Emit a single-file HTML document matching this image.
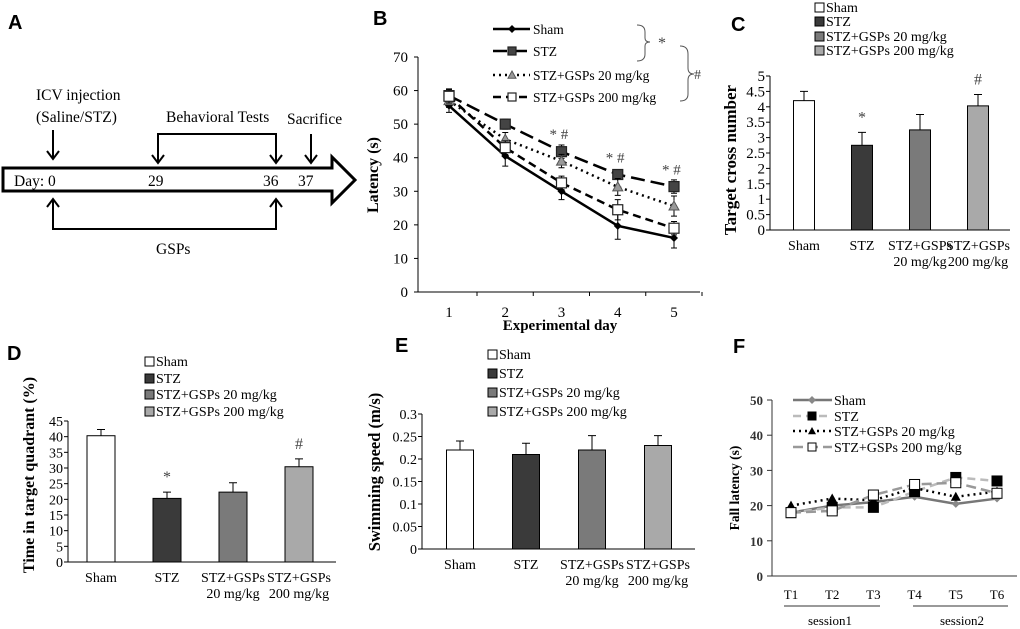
<!DOCTYPE html>
<html><head><meta charset="utf-8"><style>
html,body{margin:0;padding:0;background:#fff;}
svg{display:block;font-family:"Liberation Serif",serif;}
.pl{font-family:"Liberation Sans",sans-serif;font-weight:bold;font-size:20px;}
.tt{font-weight:bold;}
</style></head><body>
<svg id="fig" width="1020" height="629" viewBox="0 0 1020 629" xmlns="http://www.w3.org/2000/svg">
<!-- Panel A -->
<g fill="none" stroke="#000" stroke-width="2">
<text class="pl" x="8" y="29" fill="#000" stroke="none">A</text>
<path d="M3,168 L332,168 L332,157 L355,180 L332,203 L332,191 L3,191 Z" stroke-width="3"/>
<line x1="53" y1="130" x2="53" y2="159"/><path d="M47,151 L53,159 L59,151"/>
<path d="M158,163 L158,134 L276,134 L276,163"/><path d="M152,155 L158,163 L164,155"/><path d="M270,155 L276,163 L282,155"/>
<line x1="311" y1="134" x2="311" y2="163"/><path d="M305,155 L311,163 L317,155"/>
<path d="M53,199 L53,229 L276,229 L276,199"/><path d="M47,207 L53,199 L59,207"/><path d="M270,207 L276,199 L282,207"/>
<g fill="#000" stroke="none" font-size="15.5">
<text x="14" y="186">Day: 0</text><text x="148" y="186">29</text><text x="263" y="186">36</text><text x="298" y="186">37</text>
<text x="36" y="100">ICV injection</text>
<text x="36" y="122">(Saline/STZ)</text>
<text x="166" y="122">Behavioral Tests</text>
<text x="287" y="124">Sacrifice</text>
<text x="156" y="254">GSPs</text>
</g></g>
<g id="pb"></g>
<g id="pc"></g>
<g id="pd"></g>
<g id="pe"></g>
<g id="pf"></g>
</svg>
<script>
// Panel B data
const bDays=[1,2,3,4,5];
const bYTicks=[0,10,20,30,40,50,60,70];
const bSham=[55.5,40.5,30,19.7,16.1];
const bShamErr=[2,3,2.5,4,3];
const bSTZ=[58.5,50,41.8,35,31.4];
const bSTZErr=[2,1.5,2,1.5,2];
const bG20=[57,45.5,39,31.3,25.6];
const bG20Err=[2,2,2,2.5,3];
const bG200=[58.3,43,32.5,24.5,19];
const bG200Err=[2,2,2,3,2];
// Panel C data
const groups=["Sham","STZ","STZ+GSPs 20 mg/kg","STZ+GSPs 200 mg/kg"];
const cVals=[4.2,2.75,3.25,4.03];
const cErr=[0.3,0.42,0.5,0.37];
const cTicks=["0","0.5","1","1.5","2","2.5","3","3.5","4","4.5","5"];
// Panel D data
const dVals=[40.3,20.3,22.3,30.4];
const dErr=[2,2,3,2.5];
const dTicks=[0,5,10,15,20,25,30,35,40,45];
// Panel E data
const eVals=[0.22,0.21,0.22,0.23];
const eErr=[0.02,0.025,0.032,0.022];
const eTicks=["0","0.05","0.1","0.15","0.2","0.25","0.3"];
// Panel F data
const fTrials=["T1","T2","T3","T4","T5","T6"];
const fYTicks=[0,10,20,30,40,50];
const fSham=[18,20,21,22.5,20.5,22];
const fSTZ=[18,19.5,19.5,24,28,27];
const fG20=[20,22,21.5,25,22.5,24];
const fG200=[18,18.5,23,26,26.5,23.5];

const NS="http://www.w3.org/2000/svg";
function mk(p,tag,at,txt){const e=document.createElementNS(NS,tag);for(const k in at)e.setAttribute(k,at[k]);if(txt!==undefined)e.textContent=txt;p.appendChild(e);return e;}
const barFills=["#fff","#3a3a3a","#7a7a7a","#a9a9a9"];

function label(p,t,x,y){const e=mk(p,'text',{class:'pl',x:x,y:y},t);

}
function yTitle(p,t,x,cy,fs){const e=mk(p,'text',{class:'tt',x:x,y:cy,'font-size':fs,'text-anchor':'middle',transform:`rotate(-90 ${x} ${cy})`},t);

}

// ---- Panel B ----
(function(){
const g=document.getElementById('pb');
const X0=418,Y0=292,Y70=57;
const sx=d=>449+(d-1)*56.25, sy=v=>Y0-(v/70)*(Y0-Y70);
label(g,'B',373,25);
mk(g,'line',{x1:X0,y1:Y70,x2:X0,y2:Y0,stroke:'#000'});
mk(g,'line',{x1:X0,y1:Y0,x2:700,y2:Y0,stroke:'#000'});
bYTicks.forEach(v=>{mk(g,'line',{x1:X0-4,y1:sy(v),x2:X0,y2:sy(v),stroke:'#000'});
const t=mk(g,'text',{'text-anchor':'end',x:408,y:sy(v)+5,'font-size':15},v);

});
bDays.forEach(d=>{mk(g,'line',{x1:sx(d)+28,y1:Y0,x2:sx(d)+28,y2:Y0+4,stroke:'#000'});
const t=mk(g,'text',{'text-anchor':'middle',x:sx(d),y:317,'font-size':15},d);

});
const xt=mk(g,'text',{class:'tt','text-anchor':'middle',x:560,y:330,'font-size':15},'Experimental day');


yTitle(g,'Latency (s)',378,175,16);
const series=[
 {n:'sham',v:bSham,e:bShamErr,dash:'',w:2.5,m:'dia',fill:'#000'},
 {n:'stz',v:bSTZ,e:bSTZErr,dash:'14,6',w:2.5,m:'sq',fill:'#444'},
 {n:'gsps20',v:bG20,e:bG20Err,dash:'2,4',w:2.5,m:'tri',fill:'#999'},
 {n:'gsps200',v:bG200,e:bG200Err,dash:'8,5',w:2.5,m:'sq',fill:'#fff'}];
function marker(p,m,x,y,fill,s){
 if(m==='dia')return mk(p,'path',{d:`M${x},${y-4}L${x+4},${y}L${x},${y+4}L${x-4},${y}Z`,fill:'#000'});
 if(m==='sq')return mk(p,'rect',{x:x-s,y:y-s,width:2*s,height:2*s,fill:fill,stroke:'#222','stroke-width':1.2});
 return mk(p,'path',{d:`M${x},${y-s}L${x+s},${y+s*0.8}L${x-s},${y+s*0.8}Z`,fill:fill,stroke:'#555'});}
series.forEach(s=>{
 const sg=mk(g,'g',{});
 
 
 s.v.forEach((v,i)=>{const x=sx(bDays[i]);mk(sg,'path',{d:`M${x},${sy(v+s.e[i])}V${sy(v-s.e[i])}M${x-3},${sy(v+s.e[i])}h6M${x-3},${sy(v-s.e[i])}h6`,stroke:'#000'});});
 mk(sg,'polyline',{points:s.v.map((v,i)=>sx(bDays[i])+','+sy(v)).join(' '),fill:'none',stroke:'#000','stroke-width':s.w,'stroke-dasharray':s.dash});
 s.v.forEach((v,i)=>{const pt=marker(sg,s.m,sx(bDays[i]),sy(v),s.fill,5);
 
 });
});
const names=['Sham','STZ','STZ+GSPs 20 mg/kg','STZ+GSPs 200 mg/kg'],ly=[29,51,75,97];
series.forEach((s,i)=>{const lg=mk(g,'g',{});
 
 
 mk(lg,'line',{x1:493,y1:ly[i],x2:530,y2:ly[i],stroke:'#000','stroke-width':2.5,'stroke-dasharray':s.dash});
 marker(lg,s.m,512,ly[i],s.fill,4);
 mk(lg,'text',{x:533,y:ly[i]+5,'font-size':13.5},names[i]);});
mk(g,'path',{d:'M637,25 Q645,25 645,32 V38 Q645,42 650,42 Q645,42 645,46 V54 Q645,61 637,61',fill:'none',stroke:'#555'});
mk(g,'text',{x:658,y:48,'font-size':16,fill:'#444'},'*');
mk(g,'path',{d:'M680,46 Q688,46 688,54 V68 Q688,74 694,74 Q688,74 688,80 V94 Q688,101 680,101',fill:'none',stroke:'#555'});
mk(g,'text',{x:694,y:79,'font-size':14,fill:'#444'},'#');
[[3,42],[4,35],[5,31.4]].forEach(a=>{const t=mk(g,'text',{x:sx(a[0])-12,y:sy(a[1])-12,'font-size':15,fill:'#444'},'* #');
 
 });
})();

// ---- bar chart helper ----
function barChart(g,o){
 const sy=v=>o.y0-(v/o.max)*(o.y0-o.ytop);
 mk(g,'line',{x1:o.ax,y1:o.ytop,x2:o.ax,y2:o.y0,stroke:'#000'});
 mk(g,'line',{x1:o.ax,y1:o.y0,x2:o.xend,y2:o.y0,stroke:'#000'});
 o.ticks.forEach(t=>{const v=parseFloat(t);mk(g,'line',{x1:o.ax-4,y1:sy(v),x2:o.ax,y2:sy(v),stroke:'#000'});
  const e=mk(g,'text',{'text-anchor':'end',x:o.ax-5,y:sy(v)+5,'font-size':o.tfs},t);
  
  });
 o.vals.forEach((v,i)=>{const cx=o.cx[i];
  const b=mk(g,'rect',{x:cx-o.bw/2,y:sy(v),width:o.bw,height:o.y0-sy(v),fill:barFills[i],stroke:'#000','stroke-width':1});
  
  
  const te=sy(v+o.err[i]);
  mk(g,'path',{d:`M${cx},${sy(v)}V${te}M${cx-4},${te}h8`,stroke:'#000'});
  const l1=i<2?groups[i]:'STZ+GSPs',l2=i<2?'':groups[i].slice(9);
  mk(g,'text',{'text-anchor':'middle',x:cx,y:o.y0+20,'font-size':14},l1);
  if(l2)mk(g,'text',{'text-anchor':'middle',x:cx,y:o.y0+36,'font-size':14},l2);
 });
 (o.marks||[]).forEach(m=>{const t=mk(g,'text',{'text-anchor':'middle',x:o.cx[m[0]],y:sy(o.vals[m[0]]+o.err[m[0]])-10,'font-size':16,fill:'#444'},m[1]);
  
  });
 o.ly.forEach((y,i)=>{const lg=mk(g,'g',{});
  
  
  mk(lg,'rect',{x:o.lx,y:y-5,width:9,height:9,fill:barFills[i],stroke:'#000'});
  mk(lg,'text',{x:o.lx+11,y:y+4,'font-size':14},groups[i]);});
}
barChart(document.getElementById('pc'),{ax:770,y0:230,ytop:76,max:5,xend:1010,tfs:15,ticks:cTicks,vals:cVals,err:cErr,cx:[804,862,920,978],bw:21,lx:815,ly:[8,22,37,51],marks:[[1,'*'],[3,'#']]});
label(document.getElementById('pc'),'C',731,31);
yTitle(document.getElementById('pc'),'Target cross number',736,160,17);
barChart(document.getElementById('pd'),{ax:68,y0:562,ytop:421,max:45,xend:336,tfs:14,ticks:dTicks.map(String),vals:dVals,err:dErr,cx:[101,167,233,299],bw:28,lx:145,ly:[362,379,395,412],marks:[[1,'*'],[3,'#']]});
label(document.getElementById('pd'),'D',7,360);
yTitle(document.getElementById('pd'),'Time in target quadrant (%)',34,475,16);
barChart(document.getElementById('pe'),{ax:422,y0:549,ytop:414,max:0.3,xend:695,tfs:14,ticks:eTicks,vals:eVals,err:eErr,cx:[460,526,592,658],bw:27,lx:488,ly:[355,374,393,412]});
label(document.getElementById('pe'),'E',395,352);
yTitle(document.getElementById('pe'),'Swimming speed (m/s)',380,472,16.5);

// ---- Panel F ----
(function(){
const g=document.getElementById('pf');
const X0=772,Y0=576,Y50=400;
const sx=i=>791+i*41.2, sy=v=>Y0-(v/50)*(Y0-Y50);
label(g,'F',733,353);
mk(g,'line',{x1:X0,y1:Y50,x2:X0,y2:Y0,stroke:'#333'});
mk(g,'line',{x1:X0,y1:Y0,x2:1017,y2:Y0,stroke:'#333'});
fYTicks.forEach(v=>{mk(g,'line',{x1:X0-5,y1:sy(v),x2:X0,y2:sy(v),stroke:'#333'});
 const t=mk(g,'text',{class:'tt','text-anchor':'end',x:X0-9,y:sy(v)+5,'font-size':13,fill:'#333'},v);
 
 });
fTrials.forEach((t,i)=>{const e=mk(g,'text',{'text-anchor':'middle',x:sx(i),y:599,'font-size':13},t);
 
 });
mk(g,'line',{x1:784,y1:606,x2:880,y2:606,stroke:'#333'});
mk(g,'line',{x1:913,y1:606,x2:1008,y2:606,stroke:'#333'});
mk(g,'text',{'text-anchor':'middle',x:830,y:625,'font-size':13},'session1');
mk(g,'text',{'text-anchor':'middle',x:962,y:625,'font-size':13},'session2');
yTitle(g,'Fall latency (s)',739,488,13.5);
const S=[
 {n:'sham',v:fSham,c:'#777',dash:'',m:'dia',f:'#888'},
 {n:'stz',v:fSTZ,c:'#bbb',dash:'8,5',m:'sq',f:'#000'},
 {n:'gsps20',v:fG20,c:'#000',dash:'2,4',m:'tri',f:'#000'},
 {n:'gsps200',v:fG200,c:'#999',dash:'10,5',m:'sq',f:'#fff'}];
function mkr(p,s,x,y,r){
 if(s.m==='dia')return mk(p,'path',{d:`M${x},${y-r}L${x+r},${y}L${x},${y+r}L${x-r},${y}Z`,fill:s.f});
 if(s.m==='sq')return mk(p,'rect',{x:x-r,y:y-r,width:2*r,height:2*r,fill:s.f,stroke:'#000'});
 return mk(p,'path',{d:`M${x},${y-r}L${x+r},${y+r*0.8}L${x-r},${y+r*0.8}Z`,fill:s.f});}
S.forEach(s=>{const sg=mk(g,'g',{});
 
 
 mk(sg,'polyline',{points:s.v.map((v,i)=>sx(i)+','+sy(v)).join(' '),fill:'none',stroke:s.c,'stroke-width':2.5,'stroke-dasharray':s.dash});
 s.v.forEach((v,i)=>{const p=mkr(sg,s,sx(i),sy(v),s.m==='dia'?4:5);
 
 });});
const names=['Sham','STZ','STZ+GSPs 20 mg/kg','STZ+GSPs 200 mg/kg'],ly=[400,416,431,447];
S.forEach((s,i)=>{const lg=mk(g,'g',{});
 
 
 mk(lg,'line',{x1:793,y1:ly[i],x2:832,y2:ly[i],stroke:s.c,'stroke-width':2.5,'stroke-dasharray':s.dash});
 mkr(lg,s,812,ly[i],4);
 mk(lg,'text',{x:834,y:ly[i]+5,'font-size':14},names[i]);});
})();
</script>
</body></html>
